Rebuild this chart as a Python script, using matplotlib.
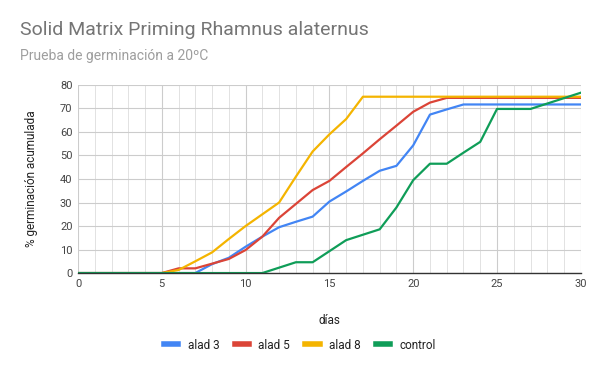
import matplotlib
matplotlib.use("Agg")
import matplotlib.pyplot as plt
from matplotlib.ticker import MultipleLocator

plt.rcParams['font.family'] = ['Roboto', 'DejaVu Sans']

dias = list(range(0, 31))
alad3 = [0, 0, 0, 0, 0, 0, 0, 0, 3.8, 6.5, 11.2, 15.5, 19.5, 21.8, 24.0, 30.4,
         34.7, 39.2, 43.5, 45.6, 54.3, 67.4, 69.6, 71.7, 71.7, 71.7, 71.7, 71.7,
         71.7, 71.7, 71.7]
alad5 = [0, 0, 0, 0, 0, 0, 2.0, 2.0, 4.0, 6.0, 9.8, 15.5, 23.5, 29.4, 35.3, 39.2,
         45.1, 50.9, 56.9, 62.7, 68.6, 72.5, 74.5, 74.5, 74.5, 74.5, 74.5, 74.5,
         74.5, 74.5, 74.5]
alad8 = [0, 0, 0, 0, 0, 0, 1.3, 5.0, 8.8, 14.5, 20.0, 25.0, 30.0, 41.0, 51.7, 59.0,
         65.5, 75.0, 75.0, 75.0, 75.0, 75.0, 75.0, 75.0, 75.0, 75.0, 75.0, 75.0,
         75.0, 75.0, 75.0]
control = [0, 0, 0, 0, 0, 0, 0, 0, 0, 0, 0, 0, 2.3, 4.6, 4.6, 9.3, 14.0, 16.3, 18.6,
           27.9, 39.5, 46.5, 46.5, 51.2, 55.8, 69.8, 69.8, 69.8, 72.1, 74.4, 76.7]

series = [("alad 3", alad3, "#4285F4"),
          ("alad 5", alad5, "#DB4437"),
          ("alad 8", alad8, "#F4B400"),
          ("control", control, "#0F9D58")]

fig = plt.figure(figsize=(6.0, 3.71), dpi=100)
ax = fig.add_axes([0.13, 0.264, 0.838, 0.507])

for name, vals, col in series:
    ax.plot(dias, vals, color=col, linewidth=1.6, label=name, solid_joinstyle='round')

ax.set_xlim(0, 30)
ax.set_ylim(0, 80)
ax.xaxis.set_major_locator(MultipleLocator(5))
ax.xaxis.set_minor_locator(MultipleLocator(1))
ax.yaxis.set_major_locator(MultipleLocator(10))
ax.grid(which='major', color='#cccccc', linewidth=0.8)
ax.grid(which='minor', axis='x', color='#e2e2e2', linewidth=0.7)
ax.set_axisbelow(True)
for s in ['top', 'right', 'left']:
    ax.spines[s].set_visible(False)
ax.spines['bottom'].set_color('#333333')
ax.spines['bottom'].set_linewidth(1.0)
ax.tick_params(which='both', length=0, labelsize=8, colors='#444444', pad=4)

ax.set_xlabel("días", fontsize=8.5, color='#222222', labelpad=18)
ax.set_ylabel("% germinación acumulada", fontsize=8.5, color='#222222', labelpad=16)

fig.text(0.033, 0.905, "Solid Matrix Priming Rhamnus alaternus", fontsize=14,
         color='#757575')
fig.text(0.033, 0.838, "Prueba de germinación a 20ºC", fontsize=10, color='#9e9e9e')

leg = fig.legend(loc='center', bbox_to_anchor=(0.5, 0.07), ncol=4, frameon=False,
                 fontsize=8.5, handlelength=1.2, columnspacing=1.3, handletextpad=0.8)
for line in leg.get_lines():
    line.set_linewidth(4)
for t in leg.get_texts():
    t.set_color('#222222')

fig.savefig("out.png", dpi=100)
